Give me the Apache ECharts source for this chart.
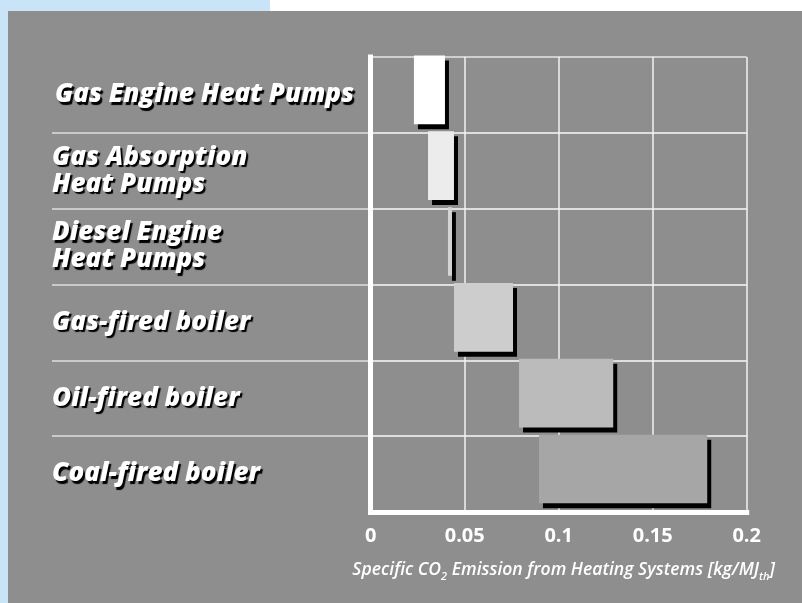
<!DOCTYPE html>
<html>
<head>
<meta charset="utf-8">
<script src="https://cdn.jsdelivr.net/npm/echarts@6/dist/echarts.min.js"></script>
<style>
  html, body { margin: 0; padding: 0; width: 802px; height: 603px; overflow: hidden; background: #ffffff; }
  #band-top { position: absolute; left: 0; top: 0; width: 270px; height: 11px; background: #c9e4f7; }
  #band-left { position: absolute; left: 0; top: 0; width: 8px; height: 603px; background: #c9e4f7; }
  #panel { position: absolute; left: 8px; top: 11px; width: 794px; height: 592px; background: #8e8e8e; }
  #chart { position: absolute; left: 0; top: 0; width: 802px; height: 603px; }
</style>
</head>
<body>
<div id="band-top"></div>
<div id="band-left"></div>
<div id="panel"></div>
<div id="chart"></div>
<script>
// Heating systems, top to bottom
const categories = [
  'Gas Engine Heat Pumps',
  'Gas Absorption\nHeat Pumps',
  'Diesel Engine\nHeat Pumps',
  'Gas-fired boiler',
  'Oil-fired boiler',
  'Coal-fired boiler'
];
// Specific CO2 emission range per system [kg/MJ_th]
const lowValues  = [0.023, 0.0305, 0.0411, 0.0443, 0.0789, 0.0895];
const highValues = [0.0395, 0.0443, 0.0432, 0.0757, 0.129, 0.179];
// Axis ticks
const xTicks = [0, 0.05, 0.1, 0.15, 0.2];

// Fill shade for each range bar
const barFills = ['#ffffff', '#ececec', '#d4d4d4', '#cdcdcd', '#bbbbbb', '#a6a6a6'];
// Label box padding per row (nudges a few labels within their band)
const labelPads = [[0, 0, 3, 3], 0, 0, [0, 0, 8, 0], [0, 0, 4, 0], [3, 0, 0, 0]];

const FONT = '"Open Sans", "DejaVu Sans", sans-serif';

const rangeData = categories.map((c, i) => [i, lowValues[i], highValues[i]]);
const categoryItems = categories.map((c, i) => ({ value: c, textStyle: { padding: labelPads[i] } }));

const chart = echarts.init(document.getElementById('chart'), null, { renderer: 'canvas' });

const plotLeft = 370.7, plotRight = 802 - 746.7, plotTop = 57, plotBottom = 603 - 512;

chart.setOption({
  backgroundColor: 'transparent',
  animation: false,
  grid: [
    // wide grid: category labels and separators across the label column
    { left: 52, right: plotRight, top: plotTop, bottom: plotBottom, containLabel: false },
    // plot grid
    { left: plotLeft, right: plotRight, top: plotTop, bottom: plotBottom, containLabel: false }
  ],
  xAxis: [
    { type: 'value', gridIndex: 0, show: false, min: xTicks[0], max: xTicks[xTicks.length - 1] },
    {
      type: 'value', gridIndex: 1,
      min: xTicks[0], max: xTicks[xTicks.length - 1], interval: xTicks[1] - xTicks[0],
      axisLine: { show: true, lineStyle: { color: '#ffffff', width: 5, cap: 'square' } },
      axisTick: { show: false },
      splitLine: { show: true, showMinLine: false, lineStyle: { color: '#f2f2f2', width: 1.5 } },
      axisLabel: {
        color: '#ffffff', fontSize: 20, fontWeight: 'bold', fontFamily: FONT, margin: 14,
        formatter: v => String(v)
      },
      name: '{t|Specific CO}{s|2}{t| Emission from Heating Systems [kg/MJ}{s|th}{t|]}',
      nameLocation: 'middle',
      nameGap: 46,
      nameTextStyle: {
        padding: [0, 0, 0, 10],
        rich: {
          t: { color: '#ffffff', fontSize: 17.6, fontWeight: 600, fontStyle: 'italic', fontFamily: FONT, lineHeight: 24 },
          s: { color: '#ffffff', fontSize: 11, fontWeight: 600, fontStyle: 'italic', fontFamily: FONT, verticalAlign: 'bottom' }
        }
      }
    }
  ],
  yAxis: [
    {
      type: 'category', gridIndex: 0, data: categoryItems, inverse: true,
      axisLine: { show: false }, axisTick: { show: false },
      splitLine: {
        show: true, interval: 0, showMinLine: false, showMaxLine: false,
        lineStyle: { color: '#dedede', width: 1.5 }
      },
      axisLabel: {
        inside: true, margin: 0, interval: 0,
        color: '#ffffff', fontSize: 26, fontWeight: 800, fontStyle: 'italic',
        fontFamily: FONT, lineHeight: 27,
        textShadowColor: '#000000', textShadowOffsetX: 2, textShadowOffsetY: 2.5, textShadowBlur: 1
      }
    },
    {
      type: 'category', gridIndex: 1, data: categories, inverse: true, offset: 4,
      axisLine: { show: true, lineStyle: { color: '#ffffff', width: 5, cap: 'square' } },
      axisTick: { show: false },
      axisLabel: { show: false },
      splitLine: { show: true, interval: 0, lineStyle: { color: '#e4e4e4', width: 1.5 } }
    }
  ],
  series: [
    {
      type: 'custom',
      xAxisIndex: 1, yAxisIndex: 1,
      data: rangeData,
      encode: { x: [1, 2], y: 0 },
      renderItem: function (params, api) {
        const idx = api.value(0);
        const a = api.coord([api.value(1), idx]);
        const b = api.coord([api.value(2), idx]);
        const band = api.size([0, 1])[1];
        const h = band * 0.905;
        const top = a[1] - band / 2 - 1.5;
        const w = b[0] - a[0];
        return {
          type: 'group',
          children: [
            { type: 'rect', shape: { x: a[0] + 4, y: top + 5, width: w, height: h }, style: { fill: '#000000' } },
            { type: 'rect', shape: { x: a[0], y: top, width: w, height: h }, style: { fill: barFills[params.dataIndex] } }
          ]
        };
      }
    }
  ]
});
</script>
</body>
</html>
